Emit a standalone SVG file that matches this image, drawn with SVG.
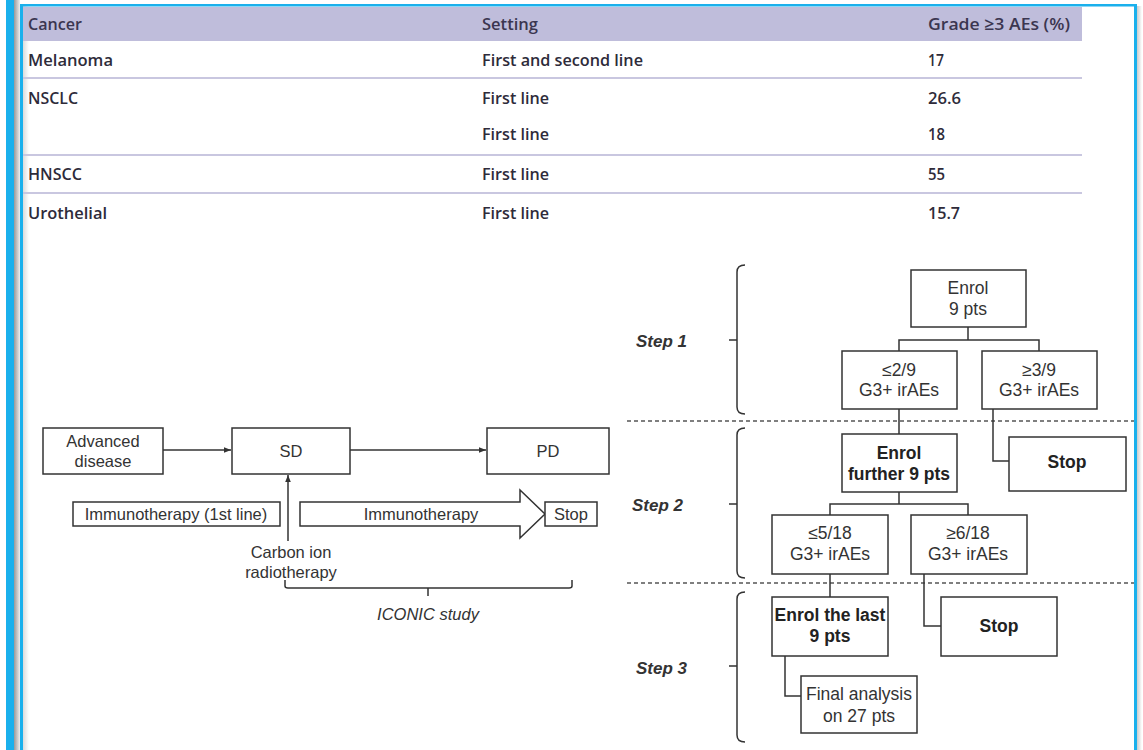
<svg xmlns="http://www.w3.org/2000/svg" width="1143" height="750" viewBox="0 0 1143 750">
<defs>
<style>
.tb{font-family:"Open Sans","Noto Sans","Liberation Sans",sans-serif;font-size:17px;font-weight:600;fill:#2e2b3a}
.th{font-family:"Open Sans","Noto Sans","Liberation Sans",sans-serif;font-size:17px;font-weight:600;fill:#3b3650}
.sep{stroke:#c9c7e0;stroke-width:2}
.bx{fill:#fff;stroke:#333;stroke-width:1.5}
.t{font-family:"Liberation Sans",Arial,sans-serif;font-size:16.5px;fill:#333;text-anchor:middle}
.r{font-size:17.5px}
.b{font-weight:bold;fill:#222}
.st{font-family:"Liberation Sans",Arial,sans-serif;font-size:17px;font-weight:bold;font-style:italic;fill:#333}
.ln{fill:none;stroke:#333;stroke-width:1.5}
.ds{fill:none;stroke:#555;stroke-width:1.5;stroke-dasharray:4 3}
</style>
<marker id="ah" viewBox="0 0 10 10" refX="10" refY="5" markerWidth="7" markerHeight="7" orient="auto" markerUnits="userSpaceOnUse">
<path d="M0,1 L10,5 L0,9 z" fill="#333"/>
</marker>
<linearGradient id="sh" x1="0" x2="1" y1="0" y2="0">
<stop offset="0" stop-color="#999"/>
<stop offset="1" stop-color="#eee"/>
</linearGradient>
<linearGradient id="shr" x1="0" x2="1" y1="0" y2="0">
<stop offset="0" stop-color="#ccc"/>
<stop offset="1" stop-color="#fff"/>
</linearGradient>
</defs>
<rect x="0" y="0" width="1143" height="750" fill="#fff"/>
<g id="frame">
<rect x="6" y="0" width="8" height="750" fill="#1ab0ec"/>
<rect x="14" y="0" width="6" height="750" fill="url(#sh)"/>
<rect x="23" y="6" width="6" height="744" fill="url(#shr)" opacity="0.7"/>
<rect x="20" y="4" width="3" height="746" fill="#1ab0ec"/>
<rect x="20" y="4" width="1117" height="2.5" fill="#1ab0ec"/>
<rect x="1134" y="4" width="3" height="746" fill="#1ab0ec"/>
<rect x="1137" y="6" width="5" height="744" fill="url(#shr)"/>
</g>
<g id="table">
<rect x="23" y="7" width="1059" height="34" fill="#bfbddb"/>
<line class="sep" x1="23" y1="78" x2="1082" y2="78"/>
<line class="sep" x1="23" y1="155" x2="1082" y2="155"/>
<line class="sep" x1="23" y1="193" x2="1082" y2="193"/>
<text class="th" x="28" y="30" textLength="54" lengthAdjust="spacingAndGlyphs">Cancer</text>
<text class="th" x="482" y="30" textLength="56" lengthAdjust="spacingAndGlyphs">Setting</text>
<text class="th" x="928" y="30" textLength="142" lengthAdjust="spacingAndGlyphs">Grade ≥3 AEs (%)</text>
<text class="tb" x="28" y="66" textLength="85" lengthAdjust="spacingAndGlyphs">Melanoma</text>
<text class="tb" x="482" y="66" textLength="161" lengthAdjust="spacingAndGlyphs">First and second line</text>
<text class="tb" x="928" y="66" textLength="16" lengthAdjust="spacingAndGlyphs">17</text>
<text class="tb" x="28" y="104" textLength="50" lengthAdjust="spacingAndGlyphs">NSCLC</text>
<text class="tb" x="482" y="104" textLength="67" lengthAdjust="spacingAndGlyphs">First line</text>
<text class="tb" x="928" y="104" textLength="33" lengthAdjust="spacingAndGlyphs">26.6</text>
<text class="tb" x="482" y="140" textLength="67" lengthAdjust="spacingAndGlyphs">First line</text>
<text class="tb" x="928" y="140" textLength="17" lengthAdjust="spacingAndGlyphs">18</text>
<text class="tb" x="28" y="180" textLength="54" lengthAdjust="spacingAndGlyphs">HNSCC</text>
<text class="tb" x="482" y="180" textLength="67" lengthAdjust="spacingAndGlyphs">First line</text>
<text class="tb" x="928" y="180" textLength="17" lengthAdjust="spacingAndGlyphs">55</text>
<text class="tb" x="28" y="219" textLength="79" lengthAdjust="spacingAndGlyphs">Urothelial</text>
<text class="tb" x="482" y="219" textLength="67" lengthAdjust="spacingAndGlyphs">First line</text>
<text class="tb" x="928" y="219" textLength="32" lengthAdjust="spacingAndGlyphs">15.7</text>
</g>
<g id="connectors">
<line class="ln" x1="163" y1="450" x2="231" y2="450" marker-end="url(#ah)"/>
<line class="ln" x1="350" y1="450" x2="486" y2="450" marker-end="url(#ah)"/>
<line class="ln" x1="288" y1="541" x2="288" y2="475" marker-end="url(#ah)"/>
<path class="ln" d="M285,580 V586 Q285,588 288,588 H569 Q572,588 572,586 V580 M428,588 V596"/>
<path class="ln" d="M745,265 Q737,265 737,272 V407 Q737,414 745,414 M729,340 H737"/>
<path class="ln" d="M745,428 Q737,428 737,435 V571 Q737,578 745,578 M729,504 H737"/>
<path class="ln" d="M745,592 Q737,592 737,599 V735 Q737,742 745,742 M729,666 H737"/>
<line class="ds" x1="627" y1="421" x2="1134" y2="421"/>
<line class="ds" x1="627" y1="583" x2="1134" y2="583"/>
<path class="ln" d="M968,327 V340 M899,351 V340 H1039 V351"/>
<path class="ln" d="M899,409 V434"/>
<path class="ln" d="M993,409 V461 H1009"/>
<path class="ln" d="M899,492 V504 M830,515 V504 H968 V515"/>
<path class="ln" d="M830,574 V597"/>
<path class="ln" d="M924,574 V626 H941"/>
<path class="ln" d="M785,656 V696 H801"/>
</g>
<g id="advanced">
<rect class="bx" x="43" y="428" width="120" height="46"/>
<text class="t" x="103" y="447">Advanced</text>
<text class="t" x="103" y="467">disease</text>
</g>
<g id="sd">
<rect class="bx" x="232" y="428" width="118" height="46"/>
<text class="t" x="291" y="457">SD</text>
</g>
<g id="pd">
<rect class="bx" x="487" y="428" width="122" height="46"/>
<text class="t" x="548" y="457">PD</text>
</g>
<g id="immuno1">
<rect class="bx" x="73" y="502" width="207" height="24"/>
<text class="t" x="176" y="520">Immunotherapy (1st line)</text>
</g>
<g id="immuno-arrow">
<path class="bx" d="M300,502 H520 V490 L545,514 L520,538 V526 H300 Z"/>
<text class="t" x="421" y="520">Immunotherapy</text>
</g>
<g id="stop-left">
<rect class="bx" x="545" y="502" width="52" height="24"/>
<text class="t" x="571" y="520">Stop</text>
</g>
<g id="carbon">
<text class="t" x="291" y="558">Carbon ion</text>
<text class="t" x="291" y="578">radiotherapy</text>
</g>
<g id="iconic">
<text class="t" x="428" y="620" font-style="italic">ICONIC study</text>
</g>
<g id="step1"><text class="st" x="636" y="347">Step 1</text></g>
<g id="step2"><text class="st" x="632" y="511">Step 2</text></g>
<g id="step3"><text class="st" x="636" y="674">Step 3</text></g>
<g id="enrol9">
<rect class="bx" x="911" y="270" width="115" height="57"/>
<text class="t r" x="968" y="294">Enrol</text>
<text class="t r" x="968" y="315">9 pts</text>
</g>
<g id="le29">
<rect class="bx" x="842" y="351" width="115" height="58"/>
<text class="t r" x="899" y="376">≤2/9</text>
<text class="t r" x="899" y="396">G3+ irAEs</text>
</g>
<g id="ge39">
<rect class="bx" x="982" y="351" width="115" height="58"/>
<text class="t r" x="1039" y="376">≥3/9</text>
<text class="t r" x="1039" y="396">G3+ irAEs</text>
</g>
<g id="enrolfurther">
<rect class="bx" x="842" y="434" width="115" height="58"/>
<text class="t r b" x="899" y="459">Enrol</text>
<text class="t r b" x="899" y="480">further 9 pts</text>
</g>
<g id="stop1">
<rect class="bx" x="1009" y="437" width="117" height="54"/>
<text class="t r b" x="1067" y="468">Stop</text>
</g>
<g id="le518">
<rect class="bx" x="772" y="515" width="116" height="59"/>
<text class="t r" x="830" y="539">≤5/18</text>
<text class="t r" x="830" y="560">G3+ irAEs</text>
</g>
<g id="ge618">
<rect class="bx" x="911" y="515" width="116" height="59"/>
<text class="t r" x="968" y="539">≥6/18</text>
<text class="t r" x="968" y="560">G3+ irAEs</text>
</g>
<g id="enrollast">
<rect class="bx" x="772" y="597" width="116" height="59"/>
<text class="t r b" x="830" y="621">Enrol the last</text>
<text class="t r b" x="830" y="642">9 pts</text>
</g>
<g id="stop2">
<rect class="bx" x="941" y="597" width="116" height="59"/>
<text class="t r b" x="999" y="632">Stop</text>
</g>
<g id="final">
<rect class="bx" x="801" y="676" width="116" height="57"/>
<text class="t r" x="859" y="700">Final analysis</text>
<text class="t r" x="859" y="722">on 27 pts</text>
</g>
</svg>
